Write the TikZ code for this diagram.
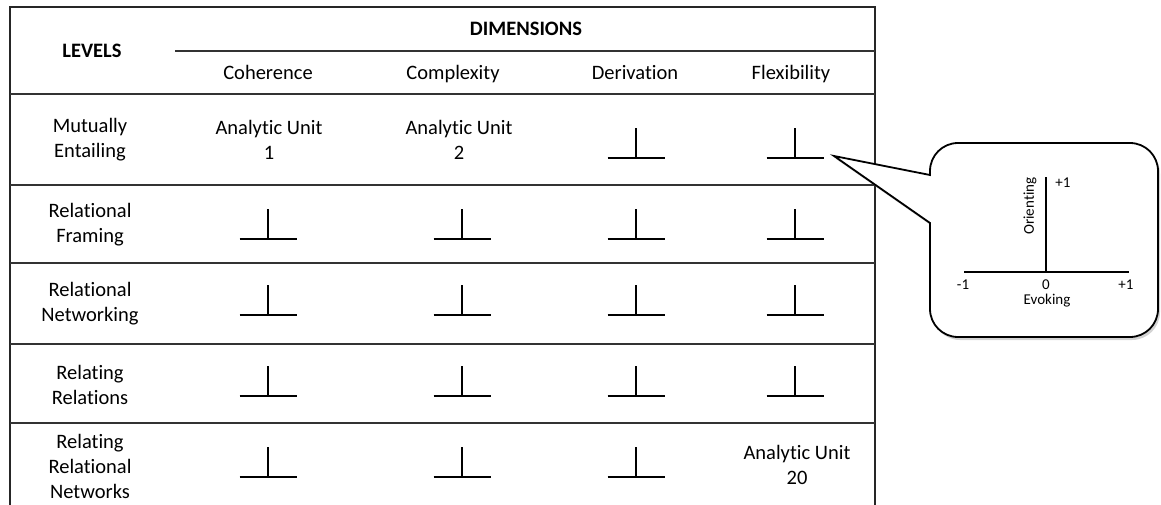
\documentclass[tikz,border=0pt]{standalone}
\usepackage{fontspec}
\setmainfont[Ligatures=NoCommon]{Carlito}
\usetikzlibrary{shadows}
\begin{document}
\begin{tikzpicture}[
        x=1pt, y=-1pt,
        every node/.style={align=center, inner sep=0pt, font=\fontsize{20.5}{25}\selectfont},
        head/.style={font=\fontsize{20.5}{25}\selectfont\bfseries, anchor=base},
        colhead/.style={anchor=base},
        small/.style={font=\fontsize{15}{18}\selectfont},
        border/.style={line width=1.6pt, black!85},
        rule/.style={line width=1.3pt, black!80},
        axis/.style={line width=2pt},
        callout/.style={line width=1.8pt, fill=white, drop shadow={shadow xshift=2pt, shadow yshift=-3pt, opacity=0.35}},
    ]
    \useasboundingbox (0,0) rectangle (1161,505);
    % table frame and rules
    \draw[border] (10,505) -- (10,7) -- (875,7) -- (875,505);
    \draw[rule] (175,51) -- (875,51);
    \foreach \ry in {94,185,263,344,423}
        \draw[rule] (10,\ry) -- (875,\ry);
    % headers
    \node[head](levels) at (92,57.5) {LEVELS};
    \node[head](dims) at (526,35.5) {DIMENSIONS};
    \node[colhead](coh) at (268,80) {Coherence};
    \node[colhead](cpx) at (453,80) {Complexity};
    \node[colhead](der) at (635,80) {Derivation};
    \node[colhead](flx) at (791,80) {Flexibility};
    % levels
    \node(lv1) at (90,140) {Mutually\\Entailing};
    \node(lv2) at (90,225) {Relational\\Framing};
    \node(lv3) at (90,304) {Relational\\Networking};
    \node(lv4) at (90,385) {Relating\\Relations};
    \node(lv5) at (90,466) {Relating\\Relational\\Networks};
    % cells
    \node(au1) at (269,140) {Analytic Unit\\1};
    \node(au2) at (459,140) {Analytic Unit\\2};
    \node(au20) at (797,465) {Analytic Unit\\20};
    \foreach \cx/\by in {636/158,795/158,
                         268/239,462/239,636/239,795/239,
                         268/315,462/315,636/315,795/315,
                         268/396,462/396,636/396,795/396,
                         268/477,462/477,636/477}
        \draw[axis] (\cx-28.5,\by) -- (\cx+28.5,\by) (\cx,\by) -- (\cx,\by-30);
    % callout
    \coordinate (tip) at (834,156);
    \coordinate (baseA) at (930,175);
    \coordinate (baseB) at (930,223);
    \draw[callout, rounded corners=28pt] (1158,240) -- (1158,337) -- (930,337)
        [sharp corners] -- (baseB) -- (tip) -- (baseA)
        [rounded corners=28pt] -- (930,143) -- (1158,143) -- cycle;
    \draw[axis] (964,272) -- (1129,272);
    \draw[axis] (1046,272) -- (1046,177);
    \node[small](plusy) at (1063,183) {+1};
    \node[small, rotate=90](orient) at (1030,206) {Orienting};
    \node[small](minusx) at (963,285) {-1};
    \node[small](zerox) at (1046,285) {0};
    \node[small](plusx) at (1126,285) {+1};
    \node[small](evoke) at (1047,301) {Evoking};
\end{tikzpicture}
\end{document}
